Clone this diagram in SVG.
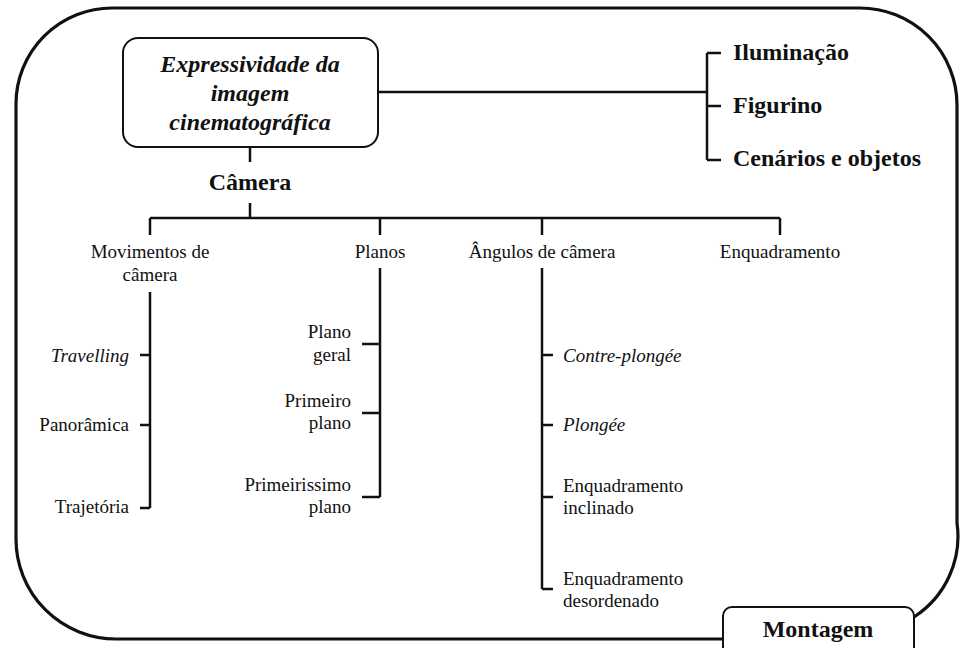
<svg xmlns="http://www.w3.org/2000/svg" width="960" height="648" viewBox="0 0 960 648">
<style>
text{font-family:"Liberation Serif","Tinos","Times New Roman","DejaVu Serif",serif;fill:#111}
.r{font-size:19px}
.b{font-size:24px;font-weight:bold}
.bi{font-size:24px;font-weight:bold;font-style:italic}
.i{font-style:italic}
.c{stroke:#111;stroke-width:2.5;fill:none}
.box{fill:#fff;stroke:#111;stroke-width:2}
.outer{fill:none;stroke:#111;stroke-width:3.2}
</style>
<rect width="960" height="648" fill="#fff"/>
<path class="outer" d="M723,639 L116,639 A100,100 0 0 1 16,539 L16,104 A96,96 0 0 1 112,8 L860,8 A97,97 0 0 1 957,105 L957,523 A96,96 0 0 1 914,617"/>
<g id="connectors">
<path class="c" d="M378,92 H707 M707,53 V160 M707,53 H721 M707,106 H721 M707,160 H721"/>
<path class="c" d="M250,147 V162 M250,203 V218 M150,218 H780 M150,218 V235 M380,218 V235 M542,218 V235 M780,218 V235"/>
<path class="c" d="M150,292 V508 M140,355 H150 M140,425 H150 M140,508 H150"/>
<path class="c" d="M380,268 V497 M362,344 H380 M362,413 H380 M362,497 H380"/>
<path class="c" d="M542,268 V589 M542,355 H553 M542,425 H553 M542,497 H553 M542,589 H553"/>
</g>
<g id="main">
<rect class="box" x="123" y="38" width="255" height="109" rx="15"/>
<text class="bi" text-anchor="middle" x="250" y="72">Expressividade da</text>
<text class="bi" text-anchor="middle" x="250" y="101">imagem</text>
<text class="bi" text-anchor="middle" x="250" y="130">cinematográfica</text>
</g>
<g id="iluminacao"><text class="b" x="733" y="60">Iluminação</text></g>
<g id="figurino"><text class="b" x="733" y="113">Figurino</text></g>
<g id="cenarios"><text class="b" x="733" y="166">Cenários e objetos</text></g>
<g id="camera"><text class="b" text-anchor="middle" x="250" y="190">Câmera</text></g>
<g id="movimentos"><text class="r" text-anchor="middle" x="150" y="258">Movimentos de</text><text class="r" text-anchor="middle" x="150" y="281">câmera</text></g>
<g id="planos"><text class="r" text-anchor="middle" x="380" y="258">Planos</text></g>
<g id="angulos"><text class="r" text-anchor="middle" x="542" y="258">Ângulos de câmera</text></g>
<g id="enquadramento"><text class="r" text-anchor="middle" x="780" y="258">Enquadramento</text></g>
<g id="travelling"><text class="r i" text-anchor="end" x="129" y="362">Travelling</text></g>
<g id="panoramica"><text class="r" text-anchor="end" x="129" y="431">Panorâmica</text></g>
<g id="trajetoria"><text class="r" text-anchor="end" x="129" y="513">Trajetória</text></g>
<g id="plano-geral"><text class="r" text-anchor="end" x="351" y="338">Plano</text><text class="r" text-anchor="end" x="351" y="361">geral</text></g>
<g id="primeiro-plano"><text class="r" text-anchor="end" x="351" y="407">Primeiro</text><text class="r" text-anchor="end" x="351" y="429">plano</text></g>
<g id="primeirissimo-plano"><text class="r" text-anchor="end" x="351" y="491">Primeirissimo</text><text class="r" text-anchor="end" x="351" y="513">plano</text></g>
<g id="contre-plongee"><text class="r i" x="563" y="362">Contre-plongée</text></g>
<g id="plongee"><text class="r i" x="563" y="431">Plongée</text></g>
<g id="enq-inclinado"><text class="r" x="563" y="492">Enquadramento</text><text class="r" x="563" y="514">inclinado</text></g>
<g id="enq-desordenado"><text class="r" x="563" y="585">Enquadramento</text><text class="r" x="563" y="607">desordenado</text></g>
<g id="montagem">
<rect class="box" x="723" y="607" width="191" height="60" rx="9"/>
<text class="b" text-anchor="middle" x="818" y="637">Montagem</text>
</g>
</svg>
